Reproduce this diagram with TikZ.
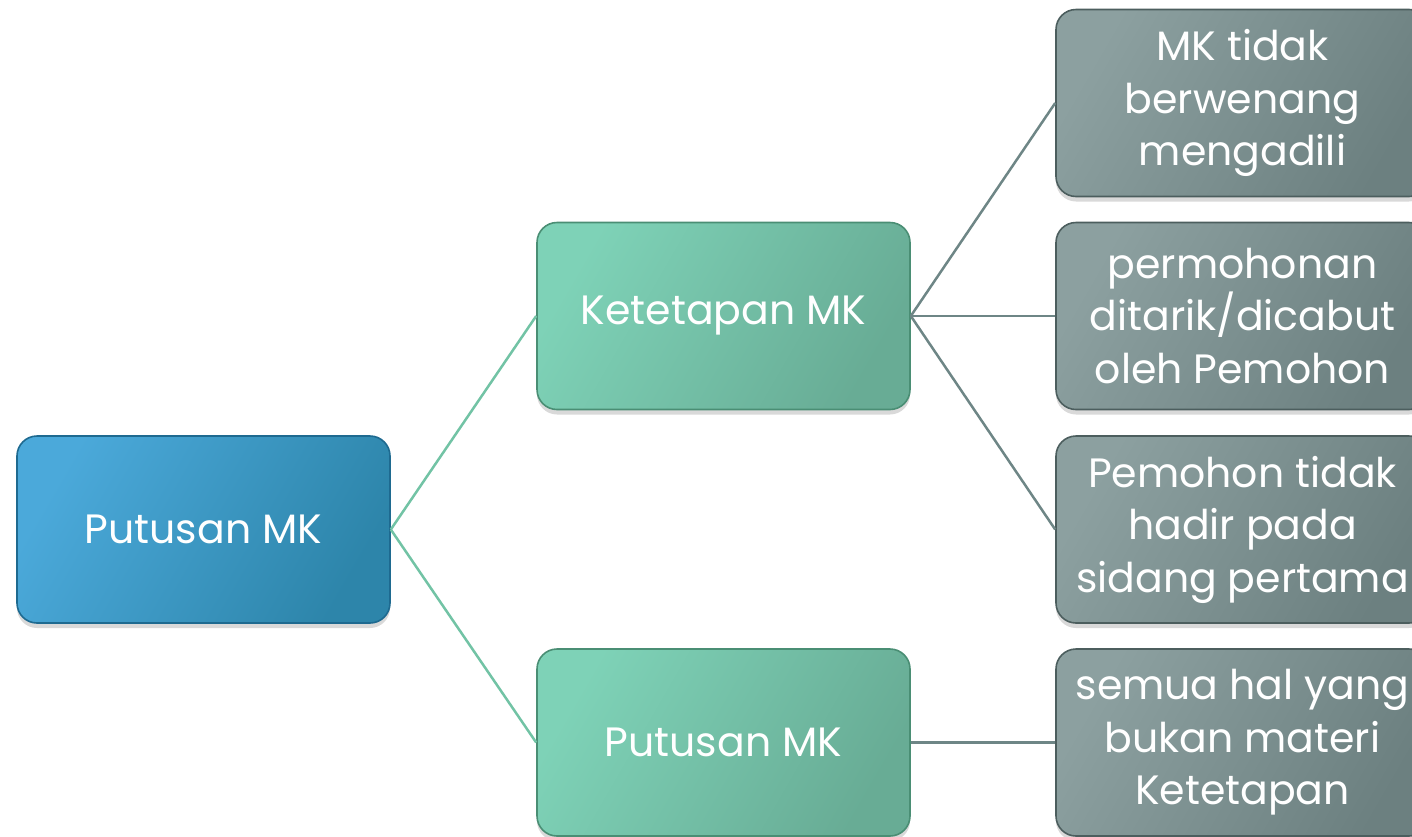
\documentclass[tikz,border=0pt]{standalone}
\usepackage{fontspec}
\setmainfont{Poppins}
\usetikzlibrary{shadows}
\definecolor{blueA}{HTML}{4BA9DA}
\definecolor{blueB}{HTML}{2D85AA}
\definecolor{blueE}{HTML}{1E6A90}
\definecolor{greenA}{HTML}{7ED2B7}
\definecolor{greenB}{HTML}{68AC95}
\definecolor{greenE}{HTML}{4A8E74}
\definecolor{grayA}{HTML}{8CA0A0}
\definecolor{grayB}{HTML}{6C8080}
\definecolor{grayE}{HTML}{4C5E5E}
\definecolor{greenLine}{HTML}{72C3A5}
\definecolor{grayLine}{HTML}{6E8686}
\tikzset{
  box/.style={rounded corners=20pt, minimum width=373pt, minimum height=187pt,
    inner sep=0pt, line width=1.6pt, text=white, align=center,
    font=\fontsize{41}{52.5}\selectfont,
    drop shadow={opacity=0.3, shadow xshift=0pt, shadow yshift=-5pt}},
  bluebox/.style={box, draw=blueE, left color=blueA, right color=blueB, shading angle=60},
  greenbox/.style={box, draw=greenE, left color=greenA, right color=greenB, shading angle=60},
  graybox/.style={box, draw=grayE, left color=grayA, right color=grayB, shading angle=60},
  greenconn/.style={draw=greenLine, line width=2.5pt},
  grayconn/.style={draw=grayLine, line width=2.5pt}
}
\begin{document}
\begin{tikzpicture}[x=1pt,y=-1pt]
\useasboundingbox (0,0) rectangle (1412,836);
\clip (0,0) rectangle (1412,836);
\node[bluebox] (root) at (203.5,529.5) {Putusan MK};
\node[greenbox] (ket) at (723.5,316) {Ketetapan MK};
\node[greenbox] (put) at (723.5,742.5) {Putusan MK};
\node[graybox] (r1) at (1242.5,103) {MK tidak\\berwenang\\mengadili};
\node[graybox] (r2) at (1242.5,316) {permohonan\\ditarik/dicabut\\oleh Pemohon};
\node[graybox] (r3) at (1242.5,529.5) {Pemohon tidak\\hadir pada\\sidang pertama};
\node[graybox] (r4) at (1242.5,742.5) {semua hal yang\\bukan materi\\Ketetapan};
\draw[greenconn] (root.east) -- (ket.west);
\draw[greenconn] (root.east) -- (put.west);
\draw[grayconn] (ket.east) -- (r1.west);
\draw[grayconn] (ket.east) -- (r2.west);
\draw[grayconn] (ket.east) -- (r3.west);
\draw[grayconn] (put.east) -- (r4.west);
\end{tikzpicture}
\end{document}
